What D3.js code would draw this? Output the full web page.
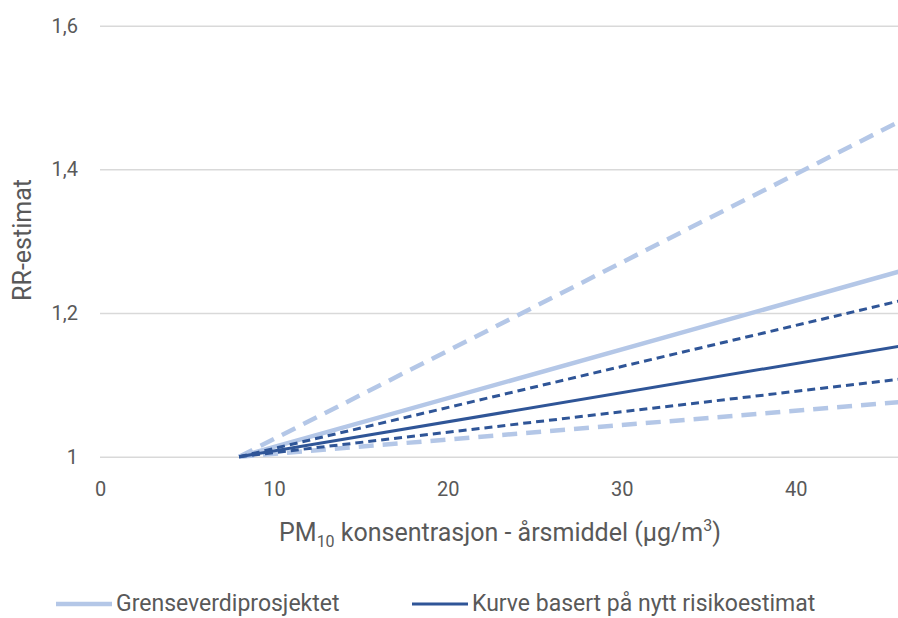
<!DOCTYPE html>
<html>
<head>
<meta charset="utf-8">
<script src="https://cdn.jsdelivr.net/npm/d3@7"></script>
<style>
  body { margin: 0; background: #fff; }
  svg text { font-family: "Roboto", "Liberation Sans", sans-serif; fill: #595959; }
</style>
</head>
<body>
<svg width="898" height="618"></svg>
<script>
// PM10 (µg/m3) start and end of each curve
var xPoints = [8, 46];

// RR values at xPoints
var grenseMid   = [1, 1.258];
var grenseHigh  = [1, 1.467];
var grenseLow   = [1, 1.076];
var kurveMid    = [1, 1.154];
var kurveHigh   = [1, 1.217];
var kurveLow    = [1, 1.108];

var xTicks = [0, 10, 20, 30, 40];
var yTicks = [1, 1.2, 1.4, 1.6];

var legendNames = ["Grenseverdiprosjektet", "Kurve basert på nytt risikoestimat"];
var light = "#b4c7e7", dark = "#2f5597";

var no = d3.formatLocale({decimal: ",", thousands: " ", grouping: [3], currency: ["", " kr"]});
var fmt = no.format("~g");

var svg = d3.select("svg"),
    width = +svg.attr("width"),
    height = +svg.attr("height");

var x = d3.scaleLinear().domain([0, 46]).range([100, 900]);
var y = d3.scaleLinear().domain([1, 1.6]).range([456.7, 25.7]);

svg.append("clipPath").attr("id", "clip")
  .append("rect").attr("x", 100).attr("y", 0).attr("width", width - 100).attr("height", 470);

// gridlines
svg.append("g")
  .attr("transform", "translate(100,0)")
  .call(d3.axisLeft(y).tickValues(yTicks).tickSize(-(width - 100)).tickFormat(fmt))
  .call(function (g) {
    g.select(".domain").remove();
    g.selectAll(".tick line").attr("stroke", "#d9d9d9").attr("stroke-width", 1.5);
    g.selectAll(".tick text").attr("x", -22).style("font-size", "20px");
  });

// x labels
svg.append("g")
  .attr("transform", "translate(0,456.7)")
  .call(d3.axisBottom(x).tickValues(xTicks).tickSize(0).tickFormat(fmt))
  .call(function (g) {
    g.select(".domain").remove();
    g.selectAll(".tick text").attr("dy", 0).attr("y", 39).style("font-size", "20px");
  });

var line = d3.line()
  .x(function (d) { return x(d[0]); })
  .y(function (d) { return y(d[1]); });

var series = [
  {v: grenseHigh, color: light, w: 4.5, dash: "15,9"},
  {v: grenseLow,  color: light, w: 4.5, dash: "15,9"},
  {v: grenseMid,  color: light, w: 4.5, dash: null},
  {v: kurveHigh,  color: dark,  w: 3,   dash: "8,5"},
  {v: kurveLow,   color: dark,  w: 3,   dash: "8,5"},
  {v: kurveMid,   color: dark,  w: 3,   dash: null}
];

svg.append("g").attr("clip-path", "url(#clip)")
  .selectAll("path")
  .data(series)
  .enter().append("path")
  .attr("d", function (s) { return line(d3.zip(xPoints, s.v)); })
  .attr("fill", "none")
  .attr("stroke", function (s) { return s.color; })
  .attr("stroke-width", function (s) { return s.w; })
  .attr("stroke-dasharray", function (s) { return s.dash; });

// axis titles
svg.append("text")
  .attr("transform", "translate(31,240) rotate(-90)")
  .attr("text-anchor", "middle")
  .style("font-size", "25px")
  .text("RR-estimat");

var xt = svg.append("text")
  .attr("x", 500).attr("y", 541)
  .attr("text-anchor", "middle")
  .style("font-size", "25px");
xt.append("tspan").text("PM");
xt.append("tspan").attr("dy", 6).style("font-size", "16px").text("10");
xt.append("tspan").attr("dy", -6).text(" konsentrasjon - årsmiddel (µg/m");
xt.append("tspan").attr("dy", -10).style("font-size", "16px").text("3");
xt.append("tspan").attr("dy", 10).text(")");

// legend
var legend = svg.append("g").attr("class", "legend");
var items = [
  {name: legendNames[0], color: light, w: 4.5, x: 56},
  {name: legendNames[1], color: dark,  w: 3,   x: 412}
];
items.forEach(function (d) {
  legend.append("line")
    .attr("x1", d.x).attr("x2", d.x + 56)
    .attr("y1", 604).attr("y2", 604)
    .attr("stroke", d.color).attr("stroke-width", d.w);
  legend.append("text")
    .attr("x", d.x + 60).attr("y", 611)
    .style("font-size", "23px")
    .text(d.name);
});
</script>
</body>
</html>
